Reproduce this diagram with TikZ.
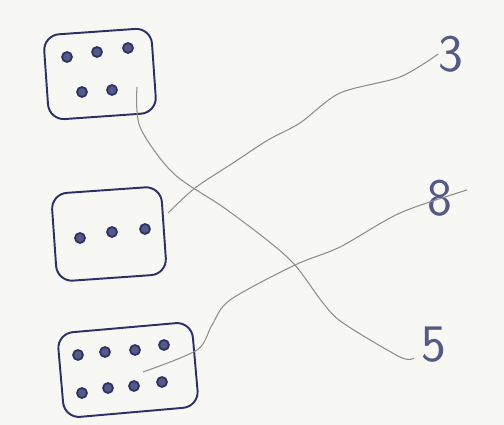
\documentclass[tikz,border=0pt]{standalone}
\usepackage{tikz}
\definecolor{ink}{HTML}{2B3166}
\definecolor{pencil}{HTML}{8E8E8E}
\definecolor{paper}{HTML}{F7F7F4}

\begin{document}
\begin{tikzpicture}[x=0.02cm,y=-0.02cm,
    box/.style={draw=ink,line width=1.1pt,rounded corners=9pt},
    dot/.style={circle,draw=ink,fill=ink!80,line width=1pt,inner sep=0pt,minimum size=0.2cm},
    num/.style={text=ink!80,font=\fontsize{30}{30}\selectfont\sffamily,inner sep=0pt},
    wire/.style={draw=pencil,line width=0.6pt}]
    \fill[paper] (0,0) rectangle (504,425);
    \useasboundingbox (0,0) rectangle (504,425);

    % the three boxes of dots
    \node[box,minimum width=2.16cm,minimum height=1.7cm,rotate=4] (b1) at (100,74) {};
    \node[box,minimum width=2.2cm,minimum height=1.76cm,rotate=4] (b2) at (109,234) {};
    \node[box,minimum width=2.7cm,minimum height=1.7cm,rotate=5] (b3) at (128,370) {};

    \node[dot] (d1) at (67,57) {};
    \node[dot] (d2) at (97,52) {};
    \node[dot] (d3) at (128,48) {};
    \node[dot] (d4) at (82,92) {};
    \node[dot] (d5) at (112,90) {};

    \node[dot] (d6) at (80,238) {};
    \node[dot] (d7) at (112,232) {};
    \node[dot] (d8) at (145,229) {};

    \node[dot] (d9) at (78,355) {};
    \node[dot] (d10) at (105,352) {};
    \node[dot] (d11) at (135,350) {};
    \node[dot] (d12) at (164,345) {};
    \node[dot] (d13) at (82,393) {};
    \node[dot] (d14) at (108,388) {};
    \node[dot] (d15) at (134,386) {};
    \node[dot] (d16) at (162,382) {};

    % the numbers
    \node[num] (three) at (451,54) {3};
    \node[num] (eight) at (440,198) {8};
    \node[num] (five) at (434,345) {5};

    \coordinate (s1) at (137,87);
    \coordinate (s2) at (168,213);
    \coordinate (s3) at (143,372);
    \coordinate (e5) at (414,358);
    \coordinate (e8) at (467,190);

    \draw[wire] plot[smooth] coordinates {(s1) (140,127) (173,173) (223,207) (267,240)
        (295,265) (323,303) (343,323) (400,357) (e5)};
    \draw[wire] plot[smooth] coordinates {(s2) (195,188) (233,163) (268,140) (300,123)
        (340,93) (400,77) (three.west)};
    \draw[wire] plot[smooth] coordinates {(s3) (197,350) (212,325) (230,300) (295,265)
        (340,247) (400,213) (e8)};
\end{tikzpicture}
\end{document}
